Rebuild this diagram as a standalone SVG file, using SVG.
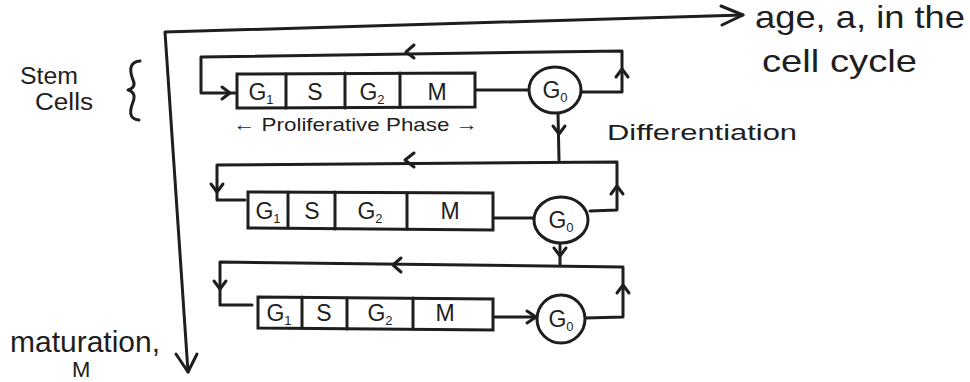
<svg xmlns="http://www.w3.org/2000/svg" width="970" height="382" viewBox="0 0 970 382">
<style>
.ln{fill:none;stroke:#1e1e1e;stroke-width:3;stroke-linecap:round;stroke-linejoin:round}
.bx{fill:#fff;stroke:#1e1e1e;stroke-width:3}
.t{font-family:"Liberation Sans","DejaVu Sans",sans-serif;fill:#1e1e1e}
.c{font-size:23px;text-anchor:middle}
.sb{font-size:13px}
</style>
<rect width="970" height="382" fill="#fff"/>
<g id="axes">
<polyline class="ln" points="743,15 165,32 188,372"/>
<polyline class="ln" points="721,6 743,15 722,25"/>
<polyline class="ln" points="176,354 188,372 197,354"/>
</g>
<g id="labels">
<text class="t" x="755" y="28" font-size="32" textLength="210" lengthAdjust="spacingAndGlyphs">age, a, in the</text>
<text class="t" x="762" y="72" font-size="32" textLength="155" lengthAdjust="spacingAndGlyphs">cell cycle</text>
<text class="t" x="20" y="84" font-size="23" textLength="58" lengthAdjust="spacingAndGlyphs">Stem</text>
<text class="t" x="35" y="110" font-size="23" textLength="58" lengthAdjust="spacingAndGlyphs">Cells</text>
<path class="ln" d="M140,61 C128,62 130,72 133,80 C136,86 132,89 128,90 C132,91 136,94 133,102 C130,110 128,119 139,120" stroke-width="2.5"/>
<text class="t" x="233" y="131" font-size="19" textLength="245" lengthAdjust="spacingAndGlyphs">← Proliferative Phase →</text>
<text class="t" x="607" y="140" font-size="22" textLength="190" lengthAdjust="spacingAndGlyphs">Differentiation</text>
<text class="t" x="10" y="352" font-size="29" textLength="150" lengthAdjust="spacingAndGlyphs">maturation,</text>
<text class="t" x="72" y="377" font-size="22">M</text>
</g>
<g id="connectors">
<!-- row1 -->
<polyline class="ln" points="237,93 201,93 201,57 622,51 622,92 582,92"/>
<polyline class="ln" points="475,90 528,90"/>
<polyline class="ln" points="414,45 406,52 414,58"/>
<polyline class="ln" points="222,87 230,93 222,99"/>
<polyline class="ln" points="616,77 622,69 628,77"/>
<polyline class="ln" points="558,113 559,160"/>
<polyline class="ln" points="553,126 559,134 565,126"/>
<!-- row2 -->
<polyline class="ln" points="245,200 217,200 217,165 617,162 617,210 590,211"/>
<polyline class="ln" points="493,218 533,218"/>
<polyline class="ln" points="414,153 405,160 414,167"/>
<polyline class="ln" points="211,184 217,192 223,184"/>
<polyline class="ln" points="611,194 617,186 623,194"/>
<polyline class="ln" points="560,243 560,264"/>
<polyline class="ln" points="554,248 560,256 566,248"/>
<!-- row3 -->
<polyline class="ln" points="252,305 220,305 220,262 623,267 623,317 585,318"/>
<polyline class="ln" points="493,317 537,317"/>
<polyline class="ln" points="527,311 536,317 527,323"/>
<polyline class="ln" points="401,258 393,265 401,272"/>
<polyline class="ln" points="214,281 220,289 226,281"/>
<polyline class="ln" points="617,293 623,285 629,293"/>
</g>
<g id="row1">
<polygon class="bx" points="237,74 475,73 475,107 237,108"/>
<line class="ln" x1="286" y1="74" x2="286" y2="108"/>
<line class="ln" x1="345" y1="73" x2="345" y2="108"/>
<line class="ln" x1="400" y1="73" x2="400" y2="107"/>
<text class="t c" x="261" y="100">G<tspan class="sb" dy="4">1</tspan></text>
<text class="t c" x="315" y="100">S</text>
<text class="t c" x="372" y="100">G<tspan class="sb" dy="4">2</tspan></text>
<text class="t c" x="437" y="100">M</text>
</g>
<g id="g0_1">
<ellipse class="bx" cx="555" cy="90" rx="26" ry="23"/>
<text class="t c" x="555" y="98">G<tspan class="sb" dy="4">0</tspan></text>
</g>
<g id="row2">
<polygon class="bx" points="248,192 493,193 493,230 248,228"/>
<line class="ln" x1="288" y1="192" x2="288" y2="228"/>
<line class="ln" x1="335" y1="192" x2="335" y2="229"/>
<line class="ln" x1="407" y1="193" x2="407" y2="229"/>
<text class="t c" x="268" y="219">G<tspan class="sb" dy="4">1</tspan></text>
<text class="t c" x="312" y="219">S</text>
<text class="t c" x="370" y="219">G<tspan class="sb" dy="4">2</tspan></text>
<text class="t c" x="450" y="219">M</text>
</g>
<g id="g0_2">
<ellipse class="bx" cx="561" cy="220" rx="27" ry="23"/>
<text class="t c" x="561" y="228">G<tspan class="sb" dy="4">0</tspan></text>
</g>
<g id="row3">
<polygon class="bx" points="258,297 493,299 493,330 258,328"/>
<line class="ln" x1="302" y1="297" x2="302" y2="328"/>
<line class="ln" x1="347" y1="298" x2="347" y2="329"/>
<line class="ln" x1="413" y1="298" x2="413" y2="329"/>
<text class="t c" x="279" y="321">G<tspan class="sb" dy="4">1</tspan></text>
<text class="t c" x="324" y="321">S</text>
<text class="t c" x="380" y="321">G<tspan class="sb" dy="4">2</tspan></text>
<text class="t c" x="445" y="321">M</text>
</g>
<g id="g0_3">
<ellipse class="bx" cx="561" cy="319" rx="24" ry="24"/>
<text class="t c" x="561" y="327">G<tspan class="sb" dy="4">0</tspan></text>
</g>
</svg>
